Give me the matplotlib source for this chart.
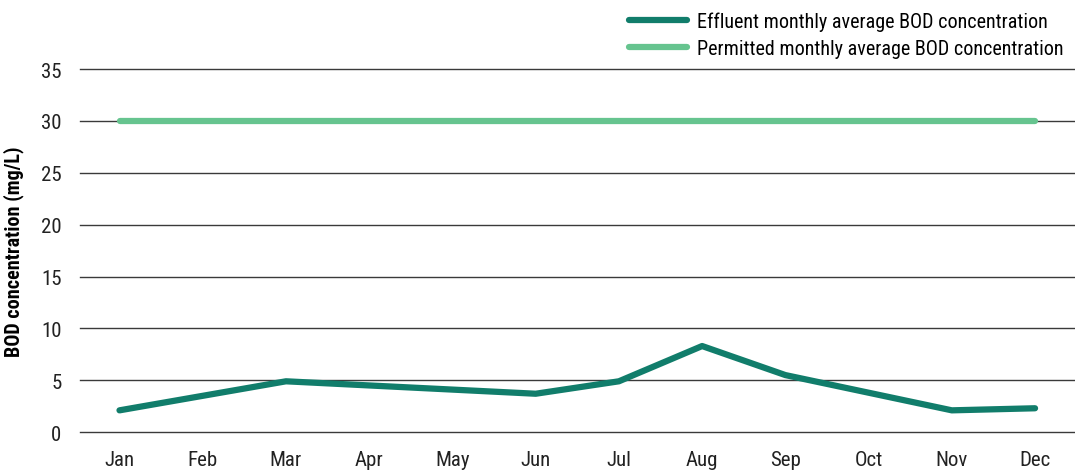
import matplotlib.pyplot as plt
from matplotlib import font_manager

months = ['Jan', 'Feb', 'Mar', 'Apr', 'May', 'Jun', 'Jul', 'Aug', 'Sep', 'Oct', 'Nov', 'Dec']
effluent = [2.1, 3.5, 4.9, 4.5, 4.1, 3.7, 4.9, 8.3, 5.5, 3.8, 2.1, 2.3]
permitted = [30, 30, 30, 30, 30, 30, 30, 30, 30, 30, 30, 30]
yticks = [0, 5, 10, 15, 20, 25, 30, 35]

# pick a narrow-ish font if one is around
names = {f.name for f in font_manager.fontManager.ttflist}
fam = 'DejaVu Sans'
for cand in ['Roboto Condensed', 'Open Sans Condensed', 'Liberation Sans Narrow',
             'DejaVu Sans Condensed', 'Liberation Sans']:
    if cand in names:
        fam = cand
        break
plt.rcParams['font.family'] = [fam, 'DejaVu Sans']
plt.rcParams['font.size'] = 15

fig = plt.figure(figsize=(10.75, 4.77), dpi=100)
ax = fig.add_axes([0.074, 0.092, 0.926, 0.761])

x = list(range(len(months)))
ax.plot(x, effluent, color='#117d6b', lw=4.5, solid_capstyle='round',
        label='Effluent monthly average BOD concentration', zorder=3)
ax.plot(x, permitted, color='#66c48f', lw=4.5, solid_capstyle='round',
        label='Permitted monthly average BOD concentration', zorder=3)

ax.set_xlim(-0.48, 11.48)
ax.set_ylim(0, 35)
ax.set_yticks(yticks)
ax.set_xticks(x)
ax.set_xticklabels(months)
ax.grid(axis='y', color='#3a3a3a', lw=1)
for gl in ax.get_ygridlines():
    gl.set_clip_on(False)
ax.set_axisbelow(True)
for s in ax.spines.values():
    s.set_visible(False)
ax.tick_params(length=0, labelsize=15, colors='#222222')
ax.tick_params(axis='x', pad=13)
ax.tick_params(axis='y', pad=13)
ax.set_ylabel('BOD concentration (mg/L)', fontweight='bold', fontsize=14.5, labelpad=12)

ax.legend(loc='lower right', bbox_to_anchor=(1.0, 1.0), frameon=False,
          fontsize=14.5, handlelength=2.9, labelspacing=0.4, handletextpad=0.5,
          borderaxespad=0.15)

fig.savefig('out.png', dpi=100)
